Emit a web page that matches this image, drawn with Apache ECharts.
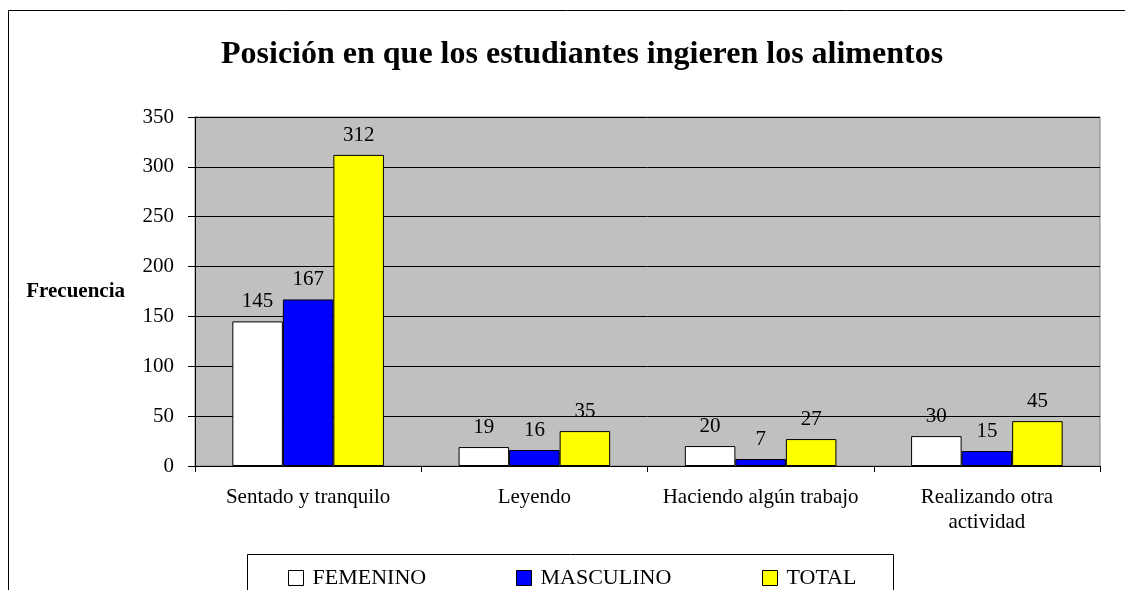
<!DOCTYPE html>
<html>
<head>
<meta charset="utf-8">
<script src="https://cdn.jsdelivr.net/npm/echarts@6/dist/echarts.min.js"></script>
<style>
  html, body { margin: 0; padding: 0; background: #fff; }
  #chart { width: 1125px; height: 590px; }
</style>
</head>
<body>
<div id="chart"></div>
<script>
const categories = ['Sentado y tranquilo', 'Leyendo', 'Haciendo algún trabajo', 'Realizando otra\nactividad'];
const femenino = [145, 19, 20, 30];
const masculino = [167, 16, 7, 15];
const total = [312, 35, 27, 45];
const yTicks = { min: 0, max: 350, interval: 50 };

const serif = '"Liberation Serif", "Times New Roman", serif';

const chart = echarts.init(document.getElementById('chart'));

const barSeries = (name, data, color) => ({
  name: name,
  type: 'bar',
  data: data,
  barGap: 0,
  barCategoryGap: '33%',
  itemStyle: { color: color, borderColor: '#000', borderWidth: 1 },
  label: {
    show: true,
    position: 'top',
    distance: 9,
    color: '#000',
    fontFamily: serif,
    fontSize: 21
  }
});

// one legend per series so each entry sits where it does in the picture
const legendAt = (name, left) => ({
  data: [name],
  left: left,
  top: 562,
  icon: 'rect',
  itemWidth: 15,
  itemHeight: 15,
  itemGap: 0,
  selectedMode: false,
  itemStyle: { borderColor: '#000', borderWidth: 1 },
  textStyle: { color: '#000', fontFamily: serif, fontSize: 22, padding: [0, 0, 0, 4] }
});

chart.setOption({
  animation: false,
  backgroundColor: '#fff',
  title: {
    text: 'Posición en que los estudiantes ingieren los alimentos',
    left: 216,
    top: 34,
    textStyle: { color: '#000', fontFamily: serif, fontWeight: 'bold', fontSize: 32 }
  },
  graphic: [
    {
      type: 'rect',
      shape: { x: 8.5, y: 10.5, width: 1200, height: 700 },
      style: { fill: 'none', stroke: '#000', lineWidth: 1 },
      z: 0
    },
    {
      type: 'rect',
      shape: { x: 247.5, y: 554.5, width: 646, height: 100 },
      style: { fill: '#fff', stroke: '#000', lineWidth: 1 },
      z: 1
    }
  ],
  legend: [
    legendAt('FEMENINO', 283),
    legendAt('MASCULINO', 511),
    legendAt('TOTAL', 757)
  ],
  grid: {
    left: 195,
    right: 25,
    top: 117,
    bottom: 124,
    show: true,
    backgroundColor: '#c0c0c0',
    borderColor: '#808080',
    borderWidth: 1
  },
  xAxis: {
    type: 'category',
    data: categories,
    axisLine: { lineStyle: { color: '#000' } },
    axisTick: { show: true, interval: 0, length: 6, lineStyle: { color: '#000' } },
    axisLabel: { interval: 0, color: '#000', fontFamily: serif, fontSize: 21, margin: 19, lineHeight: 25 }
  },
  yAxis: {
    type: 'value',
    min: yTicks.min,
    max: yTicks.max,
    interval: yTicks.interval,
    name: 'Frecuencia',
    nameLocation: 'middle',
    nameRotate: 0,
    nameGap: 70,
    nameTextStyle: { color: '#000', fontFamily: serif, fontWeight: 'bold', fontSize: 21 },
    axisLine: { show: true, lineStyle: { color: '#000' } },
    axisTick: { show: true, length: 7, lineStyle: { color: '#000' } },
    axisLabel: { color: '#000', fontFamily: serif, fontSize: 21, margin: 21 },
    splitLine: { show: true, lineStyle: { color: '#000', width: 1 } }
  },
  series: [
    barSeries('FEMENINO', femenino, '#ffffff'),
    barSeries('MASCULINO', masculino, '#0000ff'),
    barSeries('TOTAL', total, '#ffff00')
  ]
});
</script>
</body>
</html>
